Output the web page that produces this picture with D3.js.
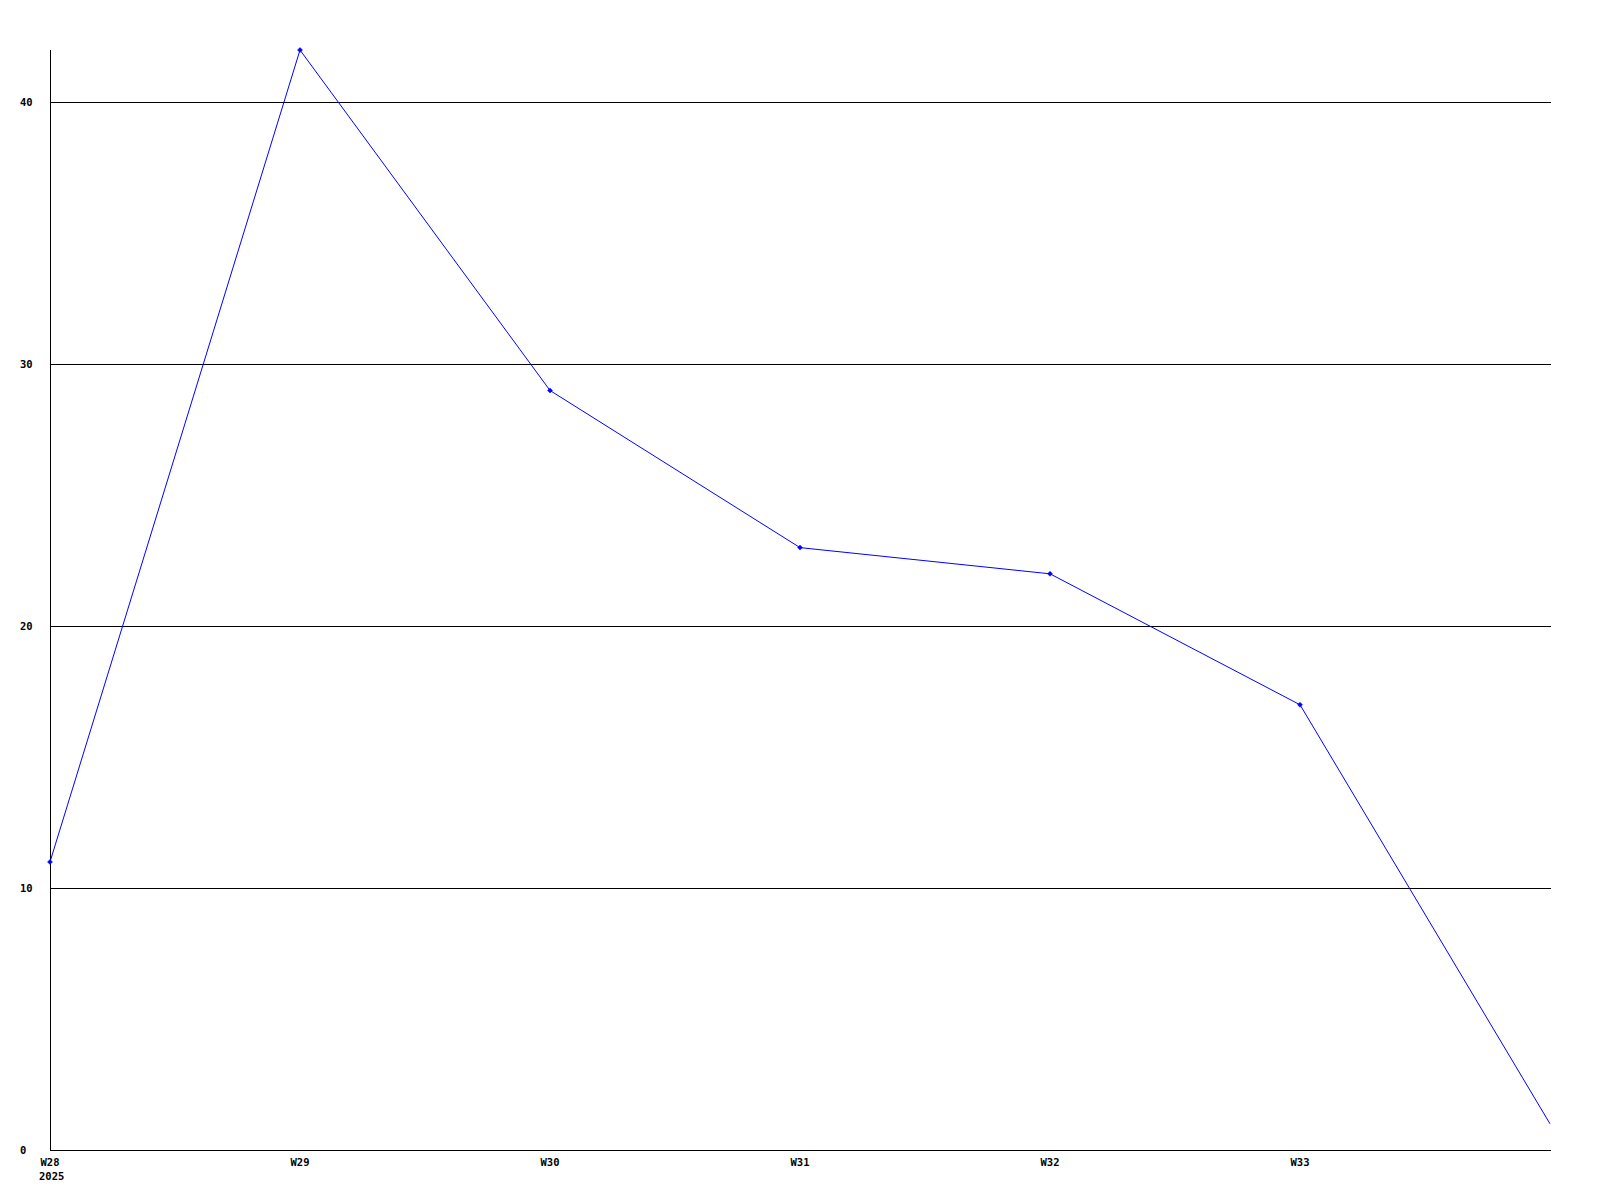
<!DOCTYPE html>
<html><head><meta charset="utf-8">
<script src="https://cdn.jsdelivr.net/npm/d3@7"></script>
<style>
html,body{margin:0;padding:0;background:#fff;}
svg text{font-family:"DejaVu Sans Mono",monospace;font-weight:bold;font-size:10.5px;fill:#000;}
</style></head>
<body>
<svg id="c" width="1600" height="1200"></svg>
<script>
const weeks = ["W28","W29","W30","W31","W32","W33","W34"];
const weekLabels = ["W28","W29","W30","W31","W32","W33"];
const values = [11, 42, 29, 23, 22, 17, 1];
const yTicks = [0, 10, 20, 30, 40];
const yearLabel = "2025";

(function(){
const svg = d3.select("#c");
const pL = 50, pR = 1550, pT = 50, pB = 1150;
const x = d3.scalePoint().domain(weeks).range([pL, pR]);
const y = d3.scaleLinear().domain([0, 42]).range([pB, pT]);

// gridlines
svg.append("g").selectAll("line").data(yTicks.filter(d => d > 0)).join("line")
  .attr("x1", pL).attr("x2", pR + 1)
  .attr("y1", d => Math.round(y(d)) + 0.5).attr("y2", d => Math.round(y(d)) + 0.5)
  .attr("stroke", "#000").attr("stroke-width", 1).attr("shape-rendering", "crispEdges");

// axes lines
svg.append("line").attr("x1", pL + 0.5).attr("x2", pL + 0.5).attr("y1", pT).attr("y2", pB + 1)
  .attr("stroke", "#000").attr("shape-rendering", "crispEdges");
svg.append("line").attr("x1", pL).attr("x2", pR + 1).attr("y1", pB + 0.5).attr("y2", pB + 0.5)
  .attr("stroke", "#000").attr("shape-rendering", "crispEdges");

// y labels
svg.append("g").selectAll("text").data(yTicks).join("text")
  .attr("x", 20).attr("y", d => Math.round(y(d)) + 4)
  .text(d => d);

// x labels
svg.append("g").selectAll("text").data(weekLabels).join("text")
  .attr("x", d => x(d)).attr("y", pB + 16).attr("text-anchor", "middle")
  .text(d => d);
svg.append("text").attr("x", x(weeks[0]) - 11).attr("y", pB + 30).text(yearLabel);

// line
const line = d3.line().x((d, i) => x(weeks[i])).y(d => y(d));
svg.append("path").datum(values).attr("d", line)
  .attr("fill", "none").attr("stroke", "#0000ff").attr("stroke-width", 1);

// markers
svg.append("g").selectAll("path").data(values.slice(0, 6)).join("path")
  .attr("transform", (d, i) => `translate(${x(weeks[i])},${y(d)})`)
  .attr("d", "M0,-2.5L2.5,0L0,2.5L-2.5,0Z")
  .attr("fill", "#0000ff").attr("stroke", "#0000ff").attr("stroke-width", 0.5);
})();
</script>
</body></html>
